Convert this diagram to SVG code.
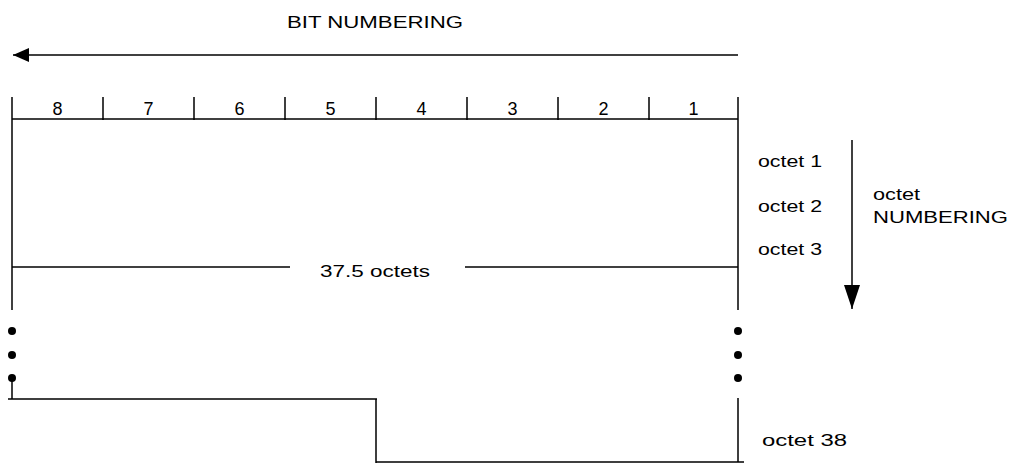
<svg xmlns="http://www.w3.org/2000/svg" width="1013" height="465" viewBox="0 0 1013 465">
  <style>
    .ln { stroke: #000; stroke-width: 1.5; fill: none; }
    .tx { font-family: "Liberation Sans", Arial, sans-serif; font-size: 17px; fill: #000; }
    .dg { font-family: "Liberation Sans", Arial, sans-serif; font-size: 18px; fill: #000; text-anchor: middle; }
    .dot { fill: #000; }
  </style>
  <defs>
    <marker id="head" markerWidth="16" markerHeight="16" refX="16" refY="8" orient="auto" markerUnits="userSpaceOnUse">
      <path d="M0,1 L16,8 L0,15 Z" fill="#000"/>
    </marker>
    <marker id="headDown" markerWidth="24" markerHeight="16" refX="24" refY="8" orient="auto" markerUnits="userSpaceOnUse">
      <path d="M0,0 L24,8 L0,16 Z" fill="#000"/>
    </marker>
  </defs>
  <rect width="1013" height="465" fill="#fff"/>

  <!-- bit numbering direction -->
  <g id="bit-numbering">
    <text class="tx" x="287" y="28" textLength="176" lengthAdjust="spacingAndGlyphs">BIT NUMBERING</text>
    <line class="ln" x1="738" y1="55" x2="13" y2="55" marker-end="url(#head)"/>
  </g>

  <!-- bit ruler -->
  <g id="bit-ruler">
    <line class="ln" x1="12" y1="119" x2="738" y2="119"/>
    <path class="ln" d="M103,97V120 M194,97V120 M285,97V120 M376,97V120 M467,97V120 M558,97V120 M649,97V120"/>
    <text class="dg" x="57.5" y="115">8</text>
    <text class="dg" x="148.5" y="115">7</text>
    <text class="dg" x="239.5" y="115">6</text>
    <text class="dg" x="330.5" y="115">5</text>
    <text class="dg" x="421.5" y="115">4</text>
    <text class="dg" x="512.5" y="115">3</text>
    <text class="dg" x="603.5" y="115">2</text>
    <text class="dg" x="693.5" y="115">1</text>
  </g>

  <!-- message frame -->
  <g id="frame">
    <line class="ln" x1="12" y1="97" x2="12" y2="310"/>
    <line class="ln" x1="738" y1="97" x2="738" y2="310"/>
    <circle class="dot" cx="12" cy="331" r="4"/>
    <circle class="dot" cx="12" cy="355" r="4"/>
    <circle class="dot" cx="12" cy="378" r="4"/>
    <circle class="dot" cx="738" cy="331" r="4"/>
    <circle class="dot" cx="738" cy="355" r="4"/>
    <circle class="dot" cx="738" cy="378" r="4"/>
    <path class="ln" d="M12,378V399 M8,399H377 M376,399V463 M376,462H744 M738,398V462"/>
  </g>

  <!-- length annotation -->
  <g id="length">
    <line class="ln" x1="12" y1="267" x2="290" y2="267"/>
    <line class="ln" x1="465" y1="267" x2="738" y2="267"/>
    <text class="tx" x="320" y="277" font-size="19" textLength="110" lengthAdjust="spacingAndGlyphs">37.5 octets</text>
  </g>

  <!-- octet labels -->
  <g id="octets">
    <text class="tx" x="758" y="167" textLength="64" lengthAdjust="spacingAndGlyphs">octet 1</text>
    <text class="tx" x="758" y="212" textLength="64" lengthAdjust="spacingAndGlyphs">octet 2</text>
    <text class="tx" x="758" y="255" textLength="64" lengthAdjust="spacingAndGlyphs">octet 3</text>
    <text class="tx" x="762" y="446" textLength="85" lengthAdjust="spacingAndGlyphs">octet 38</text>
  </g>

  <!-- octet numbering direction -->
  <g id="octet-numbering">
    <line class="ln" x1="852" y1="140" x2="852" y2="309" marker-end="url(#headDown)"/>
    <text class="tx" x="873" y="200" textLength="47" lengthAdjust="spacingAndGlyphs">octet</text>
    <text class="tx" x="873" y="223" textLength="135" lengthAdjust="spacingAndGlyphs">NUMBERING</text>
  </g>
</svg>
